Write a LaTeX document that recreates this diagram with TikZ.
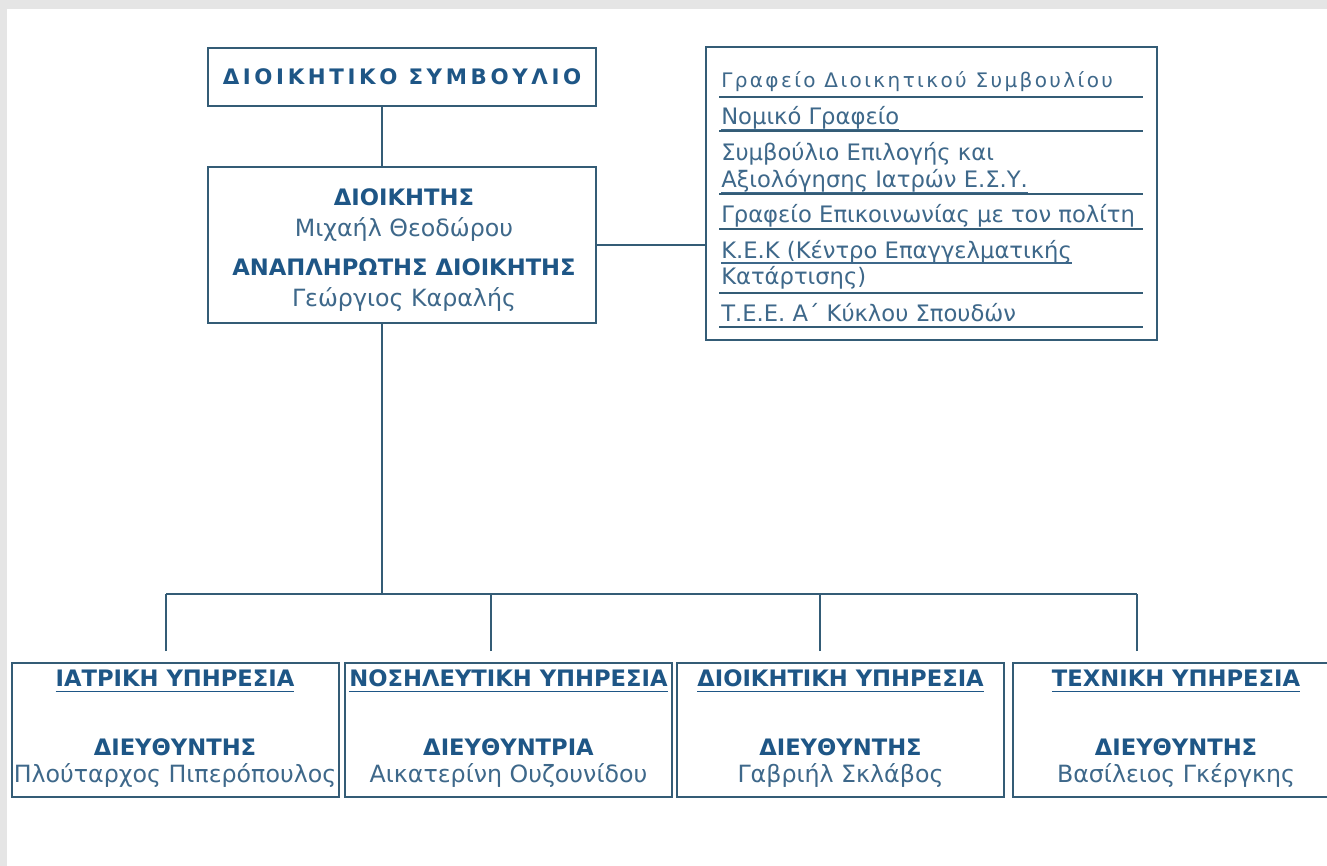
\documentclass[tikz,border=0pt]{standalone}
\usepackage{fontspec}
\setmainfont{DejaVu Sans}
\newfontfamily\titlefont[LetterSpace=17]{DejaVu Sans}
\newfontfamily\trackfont[LetterSpace=12]{DejaVu Sans}
\newcommand{\ulin}[1]{\leavevmode\setbox0\hbox{#1}\rlap{\rule[-4.5pt]{\wd0}{1.2pt}}\box0}
\definecolor{linecol}{RGB}{52,92,118}
\definecolor{headcol}{RGB}{30,86,134}
\definecolor{namecol}{RGB}{62,104,138}
\definecolor{framegray}{RGB}{229,229,229}
\begin{document}
\begin{tikzpicture}
  [x=.75pt,y=-.75pt,
   box/.style={draw=linecol,line width=1.5pt,inner sep=0pt},
   size/.style 2 args={minimum width=#1*.75pt,minimum height=#2*.75pt},
   link/.style={draw=linecol,line width=1.5pt},
   rule/.style={draw=linecol,line width=1.2pt},
   boardtitle/.style={font=\titlefont\fontsize{16}{19}\bfseries,text=headcol},
   head/.style={font=\fontsize{17}{20}\bfseries,text=headcol,inner sep=0pt},
   person/.style={font=\fontsize{17.8}{21}\selectfont,text=namecol,inner sep=0pt},
   item/.style={font=\fontsize{17}{20}\selectfont,text=namecol,anchor=base west,inner sep=0pt}]
  \useasboundingbox (0,0) rectangle (1327,866);
  \clip (0,0) rectangle (1327,866);
  \fill[framegray] (0,0) rectangle (1327,866);
  \fill[white] (7,9) rectangle (1327,866);

  % board and director
  \node[box,size={388}{58},boardtitle] (board) at (402,77) {ΔΙΟΙΚΗΤΙΚΟ ΣΥΜΒΟΥΛΙΟ};
  \node[box,size={388}{156}] (dir) at (402,245) {};
  \node[head] (dir-role) at (404,197) {ΔΙΟΙΚΗΤΗΣ};
  \node[person] (dir-name) at (404,229) {Μιχαήλ Θεοδώρου};
  \node[head] (dep-role) at (404,267) {ΑΝΑΠΛΗΡΩΤΗΣ ΔΙΟΙΚΗΤΗΣ};
  \node[person] (dep-name) at (404,300) {Γεώργιος Καραλής};

  % offices attached to the board
  \node[box,size={451}{293}] (offices) at (931.5,193.5) {};
  \node[item,font=\trackfont\fontsize{15}{18}\selectfont] (off1) at (721,88) {Γραφείο Διοικητικού Συμβουλίου};
  \node[item] (off2) at (721,125) {\ulin{Νομικό Γραφείο}};
  \node[item] (off3a) at (721,161) {Συμβούλιο Επιλογής και};
  \node[item] (off3b) at (721,188) {\ulin{Αξιολόγησης Ιατρών Ε.Σ.Υ.}};
  \node[item] (off4) at (721,223) {Γραφείο Επικοινωνίας με τον πολίτη};
  \node[item] (off5a) at (721,258) {\ulin{Κ.Ε.Κ (Κέντρο Επαγγελματικής}};
  \node[item] (off5b) at (721,284) {Κατάρτισης)};
  \node[item] (off6) at (721,321) {Τ.Ε.Ε. Α΄ Κύκλου Σπουδών};
  \foreach \y in {97,131,194,229,293,327}
    \draw[rule] (719,\y) -- (1143,\y);

  % services
  \foreach \n/\cx/\unit/\role/\who in {
    med/175/ΙΑΤΡΙΚΗ ΥΠΗΡΕΣΙΑ/ΔΙΕΥΘΥΝΤΗΣ/Πλούταρχος Πιπερόπουλος,
    nurs/508.5/ΝΟΣΗΛΕΥΤΙΚΗ ΥΠΗΡΕΣΙΑ/ΔΙΕΥΘΥΝΤΡΙΑ/Αικατερίνη Ουζουνίδου,
    admin/840.5/ΔΙΟΙΚΗΤΙΚΗ ΥΠΗΡΕΣΙΑ/ΔΙΕΥΘΥΝΤΗΣ/Γαβριήλ Σκλάβος,
    tech/1176/ΤΕΧΝΙΚΗ ΥΠΗΡΕΣΙΑ/ΔΙΕΥΘΥΝΤΗΣ/Βασίλειος Γκέργκης}
  {
    \node[box,size={327}{134}] (\n) at (\cx,730) {};
    \node[head] (\n-unit) at (\cx,681) {\ulin{\unit}};
    \node[head] (\n-role) at (\cx,747) {\role};
    \node[person] (\n-who) at (\cx,775) {\who};
  }

  % connectors
  \coordinate (trunk) at (382,594);
  \draw[link] (board.south -| trunk) -- (dir.north -| trunk);
  \draw[link] (dir.east) -- (dir.east -| offices.west);
  \draw[link] (dir.south -| trunk) -- (trunk);
  \foreach \n/\dx in {med/166,nurs/491,admin/820,tech/1137}
  {
    \coordinate (\n-top) at (\dx,651);
    \draw[link] (\n-top) -- (\n-top |- trunk);
  }
  \draw[link] (med-top |- trunk) -- (tech-top |- trunk);
\end{tikzpicture}
\end{document}
